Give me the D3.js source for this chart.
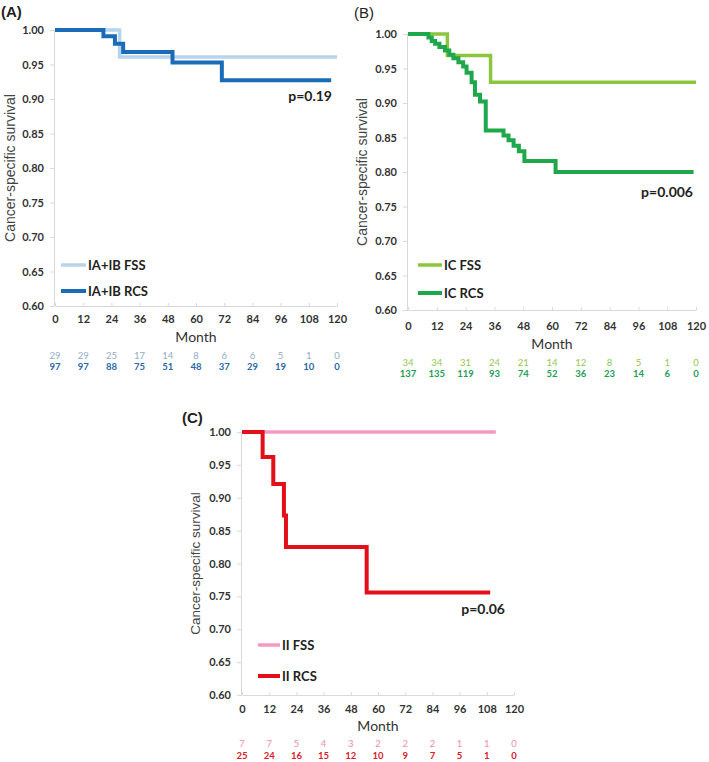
<!DOCTYPE html>
<html>
<head>
<meta charset="utf-8">
<script src="https://cdn.jsdelivr.net/npm/d3@7"></script>
<style>
body{margin:0;background:#fff;}
</style>
</head>
<body>
<div id="chart"></div>
<script>
// shared ticks
var monthTicks = [0, 12, 24, 36, 48, 60, 72, 84, 96, 108, 120];
var survTicks = [0.60, 0.65, 0.70, 0.75, 0.80, 0.85, 0.90, 0.95, 1.00];

// (A) IA+IB
var aFssTime = [0, 27.5, 120];
var aFssSurv = [1.0, 0.961, 0.961];
var aRcsTime = [0, 20.6, 25.5, 29, 50, 71, 117.5];
var aRcsSurv = [1.0, 0.991, 0.980, 0.968, 0.953, 0.927, 0.927];
var aFssRisk = [29, 29, 25, 17, 14, 8, 6, 6, 5, 1, 0];
var aRcsRisk = [97, 97, 88, 75, 51, 48, 37, 29, 19, 10, 0];

// (B) IC
var bFssTime = [0, 16.4, 34.4, 120];
var bFssSurv = [1.0, 0.969, 0.930, 0.930];
var bRcsTime = [0, 8.5, 9.9, 11.3, 13.1, 15.4, 17.2, 18.9, 21, 23, 24.4, 26.5, 27.9, 30, 32.4, 39.8, 41.9, 44, 46.2, 48.5, 61.5, 119];
var bRcsSurv = [1.0, 0.995, 0.990, 0.986, 0.981, 0.976, 0.970, 0.965, 0.959, 0.953, 0.944, 0.930, 0.912, 0.902, 0.860, 0.853, 0.846, 0.838, 0.830, 0.816, 0.800, 0.800];
var bFssRisk = [34, 34, 31, 24, 21, 14, 12, 8, 5, 1, 0];
var bRcsRisk = [137, 135, 119, 93, 74, 52, 36, 23, 14, 6, 0];

// (C) II
var cFssTime = [0, 112];
var cFssSurv = [1.0, 1.0];
var cRcsTime = [0, 9.1, 13.8, 18.5, 19.4, 55, 109.5];
var cRcsSurv = [1.0, 0.962, 0.921, 0.873, 0.825, 0.756, 0.756];
var cFssRisk = [7, 7, 5, 4, 3, 2, 2, 2, 1, 1, 0];
var cRcsRisk = [25, 24, 16, 15, 12, 10, 9, 7, 5, 1, 0];

var W = 709, H = 762;
var axisColor = "#d9d9d9";
var tickFont = "Lato, 'Open Sans', sans-serif";

var svg = d3.select("#chart").append("svg")
	.attr("width", W)
	.attr("height", H);

function zip(t, s){
	var pts = [];
	for(var i = 0; i < t.length; i++){
		pts.push([t[i], s[i]]);
	}
	return pts;
}

/**
 * Draws one Kaplan-Meier panel with legend, p value and numbers at risk.
 */
function drawPanel(p){
	var x = d3.scaleLinear().domain([0, 120]).range([p.left, p.right]);
	var y = d3.scaleLinear().domain([0.6, 1.0]).range([p.bottom, p.top]);
	var g = svg.append("g");

	//y axis
	var yAxis = d3.axisLeft(y)
		.tickValues(survTicks)
		.tickSize(4)
		.tickPadding(6)
		.tickFormat(d3.format(".2f"));
	var ya = g.append("g")
		.attr("transform", "translate(" + (p.left - 1) + ",0)")
		.call(yAxis);
	ya.select(".domain").attr("stroke", axisColor);
	ya.selectAll(".tick line").attr("stroke", axisColor);
	ya.selectAll("text")
		.attr("fill", "#333")
		.style("font", "bold 11px " + tickFont);

	//x axis
	var xAxis = d3.axisBottom(x)
		.tickValues(monthTicks)
		.tickSize(-3)
		.tickSizeOuter(0)
		.tickPadding(p.xPad);
	var xa = g.append("g")
		.attr("transform", "translate(0," + p.bottom + ")")
		.call(xAxis);
	xa.select(".domain").attr("stroke", axisColor);
	xa.selectAll(".tick line").attr("stroke", axisColor);
	xa.selectAll("text")
		.attr("fill", "#333")
		.style("font", "bold 11px " + tickFont);

	//axis titles
	g.append("text")
		.attr("transform", "translate(" + p.titleX + "," + ((p.top + p.bottom) / 2) + ") rotate(-90)")
		.attr("text-anchor", "middle")
		.attr("dominant-baseline", "central")
		.attr("fill", "#444")
		.style("font", p.titleSize + "px 'Liberation Sans', Arial, sans-serif")
		.text("Cancer-specific survival");

	g.append("text")
		.attr("x", x(60))
		.attr("y", p.monthY)
		.attr("text-anchor", "middle")
		.attr("fill", "#333")
		.style("font", "14px " + tickFont)
		.text("Month");

	//panel label
	g.append("text")
		.attr("x", p.labelX)
		.attr("y", p.labelY)
		.attr("fill", "#222")
		.style("font", p.labelWeight + " 15px 'Liberation Sans', Arial, sans-serif")
		.text(p.label);

	//survival curves, FSS underneath RCS
	var line = d3.line()
		.x(function(d){ return x(d[0]); })
		.y(function(d){ return y(d[1]); })
		.curve(d3.curveStepAfter);

	g.append("path")
		.datum(zip(p.fssTime, p.fssSurv))
		.attr("d", line)
		.attr("fill", "none")
		.attr("stroke", p.fssColor)
		.attr("stroke-width", 3.5);

	g.append("path")
		.datum(zip(p.rcsTime, p.rcsSurv))
		.attr("d", line)
		.attr("fill", "none")
		.attr("stroke", p.rcsColor)
		.attr("stroke-width", 4);

	//legend
	var leg = [
		{name: p.group + " FSS", color: p.fssColor, w: 3.5, y: p.legY[0]},
		{name: p.group + " RCS", color: p.rcsColor, w: 4, y: p.legY[1]}
	];
	leg.forEach(function(l){
		g.append("line")
			.attr("x1", p.legX)
			.attr("x2", p.legX + p.legLen)
			.attr("y1", l.y)
			.attr("y2", l.y)
			.attr("stroke", l.color)
			.attr("stroke-width", l.w);
		g.append("text")
			.attr("x", p.legX + p.legLen + 2)
			.attr("y", l.y)
			.attr("dominant-baseline", "central")
			.attr("fill", "#222")
			.style("font", "bold 13px " + tickFont)
			.text(l.name);
	});

	//p value
	g.append("text")
		.attr("x", p.pX)
		.attr("y", p.pY)
		.attr("text-anchor", "end")
		.attr("fill", "#222")
		.style("font", "bold 14px " + tickFont)
		.text(p.pText);

	//numbers at risk
	var rows = [
		{vals: p.fssRisk, color: p.fssRiskColor, y: p.riskY[0], weight: "normal"},
		{vals: p.rcsRisk, color: p.rcsRiskColor, y: p.riskY[1], weight: "bold"}
	];
	rows.forEach(function(r){
		g.selectAll(null)
			.data(r.vals)
			.enter()
			.append("text")
			.attr("x", function(d, i){ return x(monthTicks[i]); })
			.attr("y", r.y)
			.attr("text-anchor", "middle")
			.attr("fill", r.color)
			.style("font", r.weight + " 9.5px " + tickFont)
			.text(function(d){ return d; });
	});
}

drawPanel({
	label: "(A)", labelX: 1, labelY: 17, labelWeight: "bold",
	left: 55, right: 337, top: 30, bottom: 306,
	xPad: 9, monthY: 342, titleX: 10, titleSize: 14,
	group: "IA+IB",
	fssTime: aFssTime, fssSurv: aFssSurv, rcsTime: aRcsTime, rcsSurv: aRcsSurv,
	fssColor: "#b6d4ee", rcsColor: "#1b6cb7",
	legX: 61, legLen: 25, legY: [265, 291],
	pText: "p=0.19", pX: 332, pY: 101,
	fssRisk: aFssRisk, rcsRisk: aRcsRisk,
	fssRiskColor: "#8faccb", rcsRiskColor: "#2a68a8", riskY: [359, 370]
});

drawPanel({
	label: "(B)", labelX: 354, labelY: 18, labelWeight: "normal",
	left: 408, right: 696, top: 34, bottom: 310,
	xPad: 12, monthY: 349, titleX: 362, titleSize: 14,
	group: "IC",
	fssTime: bFssTime, fssSurv: bFssSurv, rcsTime: bRcsTime, rcsSurv: bRcsSurv,
	fssColor: "#8cc63e", rcsColor: "#1ea84b",
	legX: 418, legLen: 24, legY: [265, 293],
	pText: "p=0.006", pX: 693, pY: 197,
	fssRisk: bFssRisk, rcsRisk: bRcsRisk,
	fssRiskColor: "#92c752", rcsRiskColor: "#1e9e55", riskY: [366, 377]
});

drawPanel({
	label: "(C)", labelX: 182, labelY: 423, labelWeight: "bold",
	left: 242, right: 514, top: 432, bottom: 695,
	xPad: 10, monthY: 731, titleX: 195, titleSize: 13.5,
	group: "II",
	fssTime: cFssTime, fssSurv: cFssSurv, rcsTime: cRcsTime, rcsSurv: cRcsSurv,
	fssColor: "#f49ac2", rcsColor: "#e3101a",
	legX: 258, legLen: 22, legY: [645, 676],
	pText: "p=0.06", pX: 505, pY: 614,
	fssRisk: cFssRisk, rcsRisk: cRcsRisk,
	fssRiskColor: "#ef8fa4", rcsRiskColor: "#d6202a", riskY: [747, 759]
});
</script>
</body>
</html>
